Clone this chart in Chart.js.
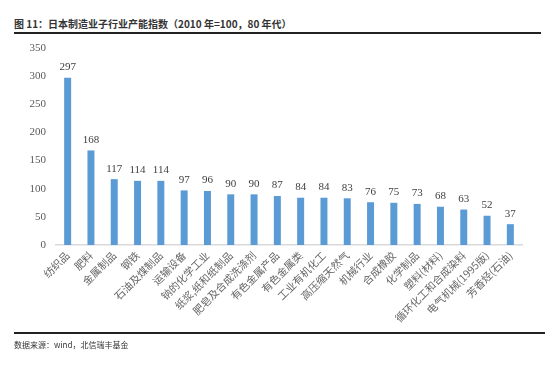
<!DOCTYPE html>
<html><head><meta charset="utf-8">
<script src="https://cdn.jsdelivr.net/npm/chart.js@4/dist/chart.umd.min.js"></script>
<style>
html,body{margin:0;padding:0;background:#fff;width:550px;height:365px;overflow:hidden;}
#title{position:absolute;left:14px;top:16px;font-family:"Noto Sans CJK SC",sans-serif;font-size:10px;font-weight:bold;color:#333;white-space:nowrap;}
#topline{position:absolute;left:14px;top:32px;width:527px;height:2px;background:#222;}
#botline{position:absolute;left:14px;top:332px;width:531px;height:1.5px;background:#222;}
#src{position:absolute;left:14px;top:339px;font-family:"Noto Sans CJK SC",sans-serif;font-size:8px;color:#333;white-space:nowrap;}
#wrap{position:absolute;left:0;top:0;width:550px;height:365px;}
</style></head>
<body>
<div id="title">图 11：日本制造业子行业产能指数（2010 年=100，80 年代）</div>
<div id="topline"></div>
<div id="wrap"><canvas id="c" width="550" height="365"></canvas></div>
<div id="botline"></div>
<div id="src">数据来源：wind，北信瑞丰基金</div>
<script>
const categories = ["纺织品","肥料","金属制品","钢铁","石油及煤制品","运输设备","钠的化学工业","纸浆,纸和纸制品","肥皂及合成洗涤剂","有色金属产品","有色金属类","工业有机化工","高压缩天然气","机械行业","合成橡胶","化学制品","塑料(材料)","循环化工和合成染料","电气机械(1995版)","芳香烃(石油)"];
const values = [297,168,117,114,114,97,96,90,90,87,84,84,83,76,75,73,68,63,52,37];
const yTicks = [0,50,100,150,200,250,300,350];

const valueLabels = {
  id:'valueLabels',
  afterDatasetsDraw(chart){
    const ctx = chart.ctx;
    const meta = chart.getDatasetMeta(0);
    ctx.save();
    ctx.font = '11px "Liberation Serif", serif';
    ctx.fillStyle = '#404040';
    ctx.textAlign = 'center';
    ctx.textBaseline = 'bottom';
    meta.data.forEach((bar,i)=>{
      ctx.fillText(String(values[i]), bar.x, bar.y - 5);
    });
    ctx.restore();
  }
};

new Chart(document.getElementById('c'), {
  type:'bar',
  data:{labels:categories, datasets:[{data:values, backgroundColor:'#5b9bd5', barPercentage:0.6, categoryPercentage:0.5}]},
  options:{
    responsive:false, animation:false,
    layout:{padding:{top:48,right:28,left:0,bottom:0}},
    plugins:{legend:{display:false}, tooltip:{enabled:false}},
    scales:{
      x:{
        grid:{display:false, drawTicks:false},
        border:{display:true,color:'#d9d9d9',width:1.5},
        ticks:{maxRotation:45,minRotation:45,autoSkip:false,padding:4,color:'#666',font:{family:'"Noto Sans CJK SC", sans-serif',size:10.5}},
        afterFit(s){ s.height = 120; }
      },
      y:{
        min:0,max:350,
        afterBuildTicks(s){ s.ticks = yTicks.map(v=>({value:v})); },
        grid:{display:false, drawTicks:false},
        border:{display:false},
        ticks:{padding:10,color:'#595959',font:{family:'"Liberation Serif", serif',size:11}},
        afterFit(s){ s.width = 56; }
      }
    }
  },
  plugins:[valueLabels]
});
</script>
</body></html>
